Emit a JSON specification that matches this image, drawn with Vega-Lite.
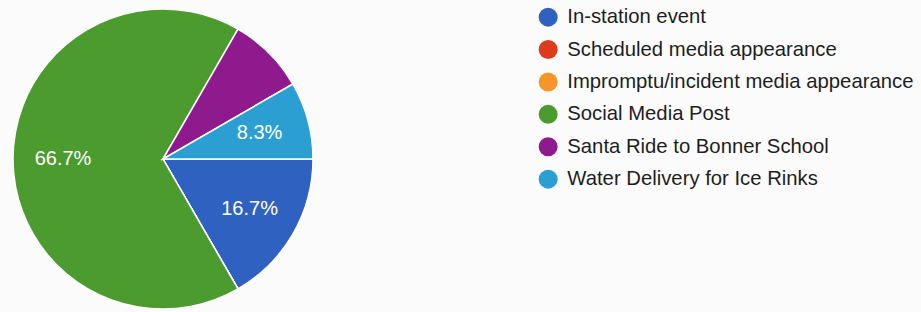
{
  "$schema": "https://vega.github.io/schema/vega-lite/v6.json",
  "width": 300,
  "height": 300,
  "autosize": {"type": "none"},
  "padding": {"left": 13, "top": 9, "right": 608, "bottom": 3},
  "background": "#fbfbfb",
  "config": {"view": {"stroke": null}, "font": "Liberation Sans"},
  "data": {
    "values": [
      {"i": 1, "category": "In-station event", "count": 2, "label": "16.7%"},
      {"i": 2, "category": "Scheduled media appearance", "count": 0, "label": ""},
      {"i": 3, "category": "Impromptu/incident media appearance", "count": 0, "label": ""},
      {"i": 4, "category": "Social Media Post", "count": 8, "label": "66.7%"},
      {"i": 5, "category": "Santa Ride to Bonner School", "count": 1, "label": ""},
      {"i": 6, "category": "Water Delivery for Ice Rinks", "count": 1, "label": "8.3%"}
    ]
  },
  "encoding": {
    "theta": {"field": "count", "type": "quantitative", "stack": true, "scale": {"range": [1.5708, 7.854]}},
    "order": {"field": "i", "type": "ordinal"}
  },
  "layer": [
    {
      "mark": {"type": "arc", "radius": 150, "stroke": "#ffffff", "strokeWidth": 1.5},
      "encoding": {
        "color": {
          "field": "category",
          "type": "nominal",
          "sort": ["In-station event", "Scheduled media appearance", "Impromptu/incident media appearance", "Social Media Post", "Santa Ride to Bonner School", "Water Delivery for Ice Rinks"],
          "scale": {
            "domain": ["In-station event", "Scheduled media appearance", "Impromptu/incident media appearance", "Social Media Post", "Santa Ride to Bonner School", "Water Delivery for Ice Rinks"],
            "range": ["#2f62c0", "#dd3b1b", "#f5952a", "#4b9b2f", "#8f1a8e", "#2b9fd2"]
          },
          "legend": {
            "title": null,
            "orient": "none",
            "legendX": 525,
            "legendY": -2,
            "symbolType": "circle",
            "symbolSize": 361,
            "symbolStrokeWidth": 0,
            "labelFontSize": 20.3,
            "labelFont": "Liberation Sans",
            "labelColor": "#1e1e1e",
            "labelOffset": 9,
            "rowPadding": 11.4,
            "labelLimit": 500
          }
        }
      }
    },
    {
      "mark": {"type": "text", "radius": 100, "fill": "#ffffff", "fontSize": 20, "font": "Liberation Sans"},
      "encoding": {
        "text": {"field": "label", "type": "nominal"}
      }
    }
  ]
}
